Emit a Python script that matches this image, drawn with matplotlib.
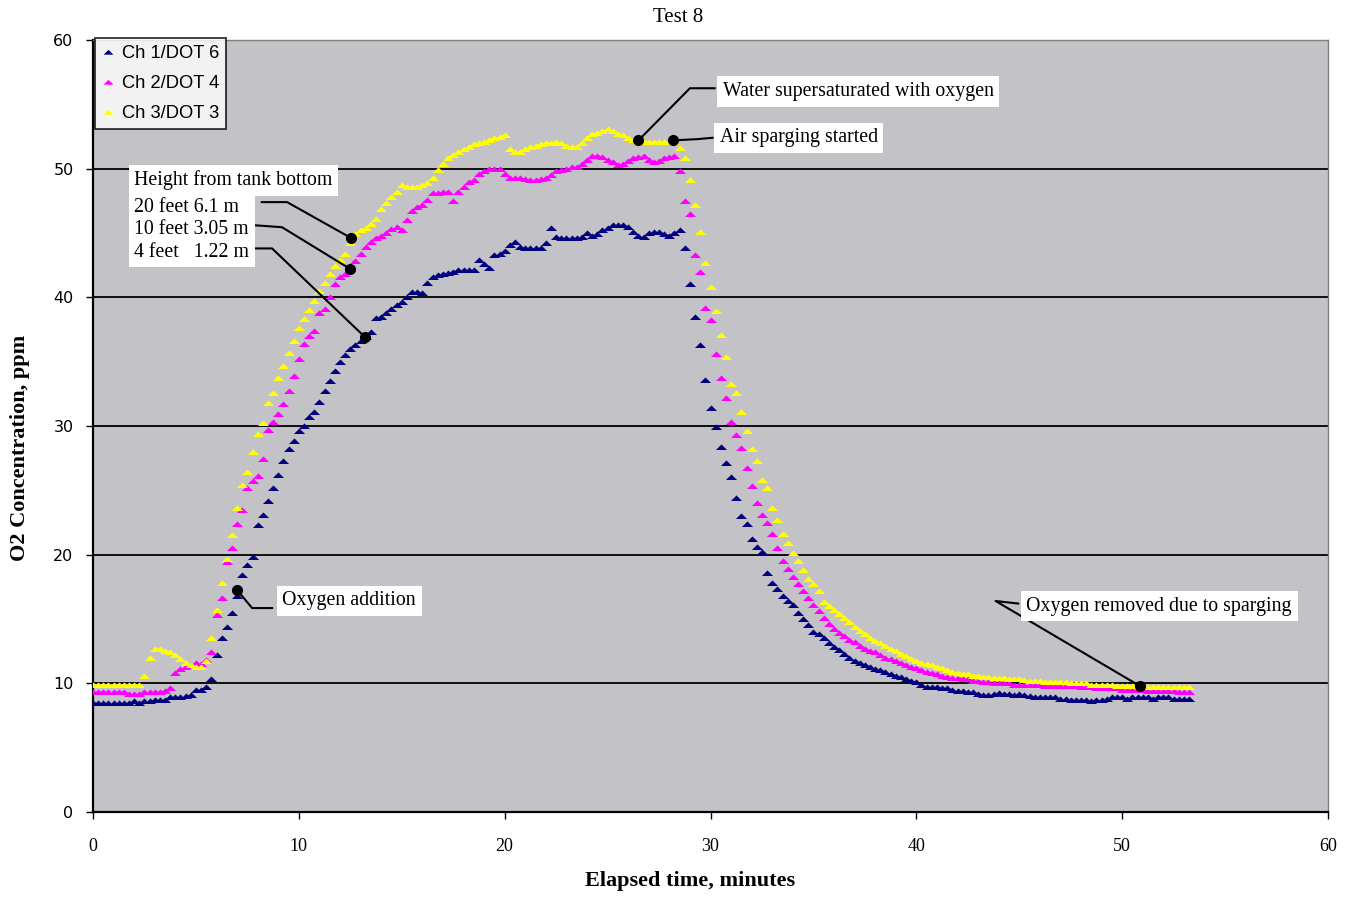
import numpy as np
import matplotlib
matplotlib.use("Agg")
import matplotlib.pyplot as plt
from matplotlib.lines import Line2D

# sampling step of the logger, minutes
TIME_STEP = 0.25

# Ch 1/DOT 6 (4 feet), ppm, one value every 0.25 min from t=0
ch1 = [8.5, 8.5, 8.5, 8.5, 8.5, 8.5, 8.5, 8.5, 8.6, 8.5, 8.6, 8.6, 8.7, 8.7, 8.7, 8.9, 8.9, 8.9, 9.0, 9.1,
       9.5, 9.5, 9.7, 10.3, 12.2, 13.5, 14.4, 15.5, 16.8, 18.4, 19.2, 19.8, 22.3, 23.1, 24.2, 25.2, 26.2, 27.3, 28.2, 28.8,
       29.6, 30.0, 30.7, 31.1, 31.9, 32.7, 33.5, 34.3, 35.0, 35.5, 36.0, 36.3, 36.6, 36.9, 37.3, 38.4, 38.5, 38.8, 39.1, 39.4,
       39.6, 40.0, 40.4, 40.4, 40.3, 41.1, 41.6, 41.7, 41.8, 41.9, 42.0, 42.1, 42.1, 42.1, 42.1, 42.9, 42.6, 42.3, 43.3, 43.4,
       43.6, 44.1, 44.3, 43.9, 43.8, 43.8, 43.8, 43.8, 44.2, 45.4, 44.7, 44.6, 44.6, 44.6, 44.6, 44.7, 45.0, 44.8, 44.9, 45.2,
       45.4, 45.6, 45.6, 45.6, 45.5, 45.1, 44.8, 44.7, 45.0, 45.1, 45.1, 44.9, 44.8, 45.0, 45.2, 43.8, 41.0, 38.5, 36.3, 33.6,
       31.4, 29.9, 28.4, 27.1, 26.0, 24.4, 23.0, 22.4, 21.2, 20.6, 20.2, 18.6, 17.8, 17.3, 16.8, 16.4, 16.1, 15.5, 15.0, 14.5,
       14.0, 13.8, 13.5, 13.1, 12.8, 12.6, 12.3, 12.0, 11.7, 11.6, 11.4, 11.3, 11.1, 11.0, 10.9, 10.7, 10.6, 10.5, 10.3, 10.2,
       10.1, 9.9, 9.7, 9.7, 9.7, 9.6, 9.6, 9.5, 9.4, 9.4, 9.3, 9.3, 9.2, 9.1, 9.1, 9.2, 9.25, 9.2, 9.15, 9.1,
       9.2, 9.1, 9.0, 8.9, 8.9, 8.9, 8.9, 8.9, 8.8, 8.8, 8.7, 8.7, 8.7, 8.7, 8.6, 8.7, 8.7, 8.8, 8.9, 8.9,
       8.9, 8.8, 8.9, 8.9, 8.9, 8.9, 8.8, 8.9, 8.9, 8.9, 8.8, 8.8, 8.8, 8.8]

# Ch 2/DOT 4 (10 feet)
ch2 = [9.3, 9.3, 9.3, 9.3, 9.3, 9.3, 9.3, 9.2, 9.2, 9.2, 9.3, 9.3, 9.3, 9.3, 9.4, 9.6, 10.8, 11.1, 11.3, 11.4,
       11.6, 11.5, 11.8, 12.4, 15.3, 16.6, 19.4, 20.5, 22.4, 23.5, 25.2, 25.7, 26.1, 27.4, 29.7, 30.3, 30.9, 31.7, 32.7, 33.9,
       35.2, 36.4, 37.0, 37.4, 38.8, 39.1, 40.0, 41.0, 41.6, 41.8, 42.2, 42.8, 43.4, 43.9, 44.3, 44.6, 44.8, 45.0, 45.3, 45.5,
       45.2, 46.0, 46.7, 47.0, 47.2, 47.6, 48.1, 48.1, 48.2, 48.2, 47.5, 48.2, 48.6, 49.0, 49.1, 49.6, 49.8, 50.0, 50.0, 50.0,
       49.6, 49.3, 49.3, 49.3, 49.2, 49.1, 49.1, 49.2, 49.3, 49.5, 49.8, 49.9, 50.0, 50.1, 50.1, 50.4, 50.7, 51.0, 51.0, 50.9,
       50.7, 50.5, 50.3, 50.4, 50.6, 50.8, 50.9, 51.0, 50.7, 50.5, 50.6, 50.8, 50.9, 51.0, 49.8, 47.5, 46.5, 43.3, 42.0, 39.2,
       38.2, 35.6, 33.7, 32.2, 30.3, 29.3, 28.3, 26.7, 25.3, 24.0, 23.1, 22.5, 21.6, 20.5, 19.5, 18.9, 18.3, 17.7, 17.2, 16.6,
       16.1, 15.6, 15.1, 14.6, 14.2, 13.9, 13.7, 13.4, 13.2, 12.9, 12.7, 12.5, 12.4, 12.2, 12.0, 11.9, 11.7, 11.6, 11.4, 11.3,
       11.2, 11.0, 10.9, 10.8, 10.7, 10.6, 10.5, 10.4, 10.4, 10.3, 10.3, 10.2, 10.2, 10.1, 10.1, 10.0, 10.0, 10.0, 10.0, 9.9,
       9.9, 9.9, 9.9, 9.9, 9.9, 9.8, 9.8, 9.8, 9.8, 9.8, 9.8, 9.8, 9.7, 9.7, 9.7, 9.6, 9.6, 9.6, 9.6, 9.6,
       9.5, 9.5, 9.5, 9.5, 9.5, 9.4, 9.4, 9.4, 9.4, 9.4, 9.4, 9.3, 9.3, 9.3]

# Ch 3/DOT 3 (20 feet)
ch3 = [9.9, 9.9, 9.9, 9.9, 9.9, 9.9, 9.9, 9.9, 9.9, 9.9, 10.6, 12.0, 12.7, 12.7, 12.5, 12.4, 12.2, 11.9, 11.6, 11.4,
       11.3, 11.3, 11.7, 13.5, 15.7, 17.8, 19.7, 21.5, 23.6, 25.4, 26.4, 28.0, 29.4, 30.2, 31.8, 32.6, 33.7, 34.7, 35.7, 36.6,
       37.6, 38.3, 39.0, 39.7, 40.5, 41.1, 41.8, 42.4, 42.9, 43.4, 44.2, 44.9, 45.2, 45.4, 45.7, 46.1, 46.9, 47.3, 47.8, 48.2,
       48.7, 48.6, 48.6, 48.6, 48.7, 48.9, 49.3, 49.9, 50.4, 50.8, 51.1, 51.3, 51.5, 51.7, 51.9, 52.0, 52.1, 52.2, 52.4, 52.5,
       52.6, 51.5, 51.3, 51.3, 51.5, 51.7, 51.8, 51.9, 52.0, 52.0, 52.1, 52.0, 51.8, 51.7, 51.7, 52.0, 52.4, 52.7, 52.8, 52.9,
       53.1, 52.9, 52.7, 52.6, 52.4, 52.2, 52.1, 52.1, 52.1, 52.1, 52.1, 52.1, 52.1, 52.1, 51.6, 50.8, 49.1, 47.2, 45.1, 42.7,
       40.8, 38.9, 37.1, 35.4, 33.3, 32.6, 31.1, 29.6, 28.2, 27.3, 25.8, 25.2, 23.6, 22.7, 21.6, 20.9, 20.1, 19.5, 18.8, 18.1,
       17.7, 17.2, 16.3, 16.0, 15.7, 15.4, 15.1, 14.8, 14.4, 14.1, 13.8, 13.5, 13.3, 13.1, 12.9, 12.7, 12.5, 12.3, 12.1, 11.9,
       11.7, 11.6, 11.5, 11.4, 11.3, 11.2, 11.0, 10.9, 10.8, 10.7, 10.7, 10.6, 10.55, 10.5, 10.5, 10.4, 10.4, 10.4, 10.3, 10.3,
       10.3, 10.25, 10.2, 10.2, 10.2, 10.1, 10.1, 10.1, 10.1, 10.1, 10.0, 10.0, 10.0, 10.0, 9.9, 9.9, 9.9, 9.9, 9.9, 9.8,
       9.8, 9.8, 9.8, 9.8, 9.8, 9.75, 9.7, 9.7, 9.7, 9.7, 9.7, 9.7, 9.7, 9.7]

series_names = ["Ch 1/DOT 6", "Ch 2/DOT 4", "Ch 3/DOT 3"]
series_colors = ["#000080", "#ff00ff", "#ffff00"]

x_ticks = [0, 10, 20, 30, 40, 50, 60]
y_ticks = [0, 10, 20, 30, 40, 50, 60]

SERIF = "Liberation Serif"
SANS = "Liberation Sans"
# flat excel-like triangle
TRI = [(-1.0, -0.45), (1.0, -0.45), (0.0, 0.55), (-1.0, -0.45)]

fig = plt.figure(figsize=(13.54, 8.99), dpi=100)
ax = fig.add_axes([93 / 1354, 1 - 812 / 899, (1328 - 93) / 1354, (812 - 40) / 899])
ax.set_facecolor("#c3c2c7")

for v in y_ticks[1:-1]:
    ax.axhline(v, color="black", lw=1.3, zorder=1)

for vals, name, col in zip([ch1, ch2, ch3], series_names, series_colors):
    t = np.arange(len(vals)) * TIME_STEP
    ax.plot(t, vals, ls="none", marker=TRI, ms=8, mew=0, color=col, zorder=3, label=name)

ax.set_xlim(x_ticks[0], x_ticks[-1])
ax.set_ylim(y_ticks[0], y_ticks[-1])
ax.set_xticks(x_ticks)
ax.set_yticks(y_ticks)
ax.tick_params(axis="x", direction="out", length=5, width=1, pad=14, labelsize=13)
ax.tick_params(axis="y", direction="out", length=5, width=1, pad=9, labelsize=11.5)
for lab in ax.get_xticklabels():
    lab.set_fontfamily(SERIF)
for lab in ax.get_yticklabels():
    lab.set_fontfamily("DejaVu Sans")

for s in ["left", "bottom"]:
    ax.spines[s].set_color("black")
    ax.spines[s].set_linewidth(1.6)
for s in ["top", "right"]:
    ax.spines[s].set_color("#808080")
    ax.spines[s].set_linewidth(1)

fig.text(678 / 1354, 1 - 17 / 899, "Test 8", fontfamily=SERIF, fontsize=15, ha="center", va="center")
fig.text(690 / 1354, 1 - 881 / 899, "Elapsed time, minutes", fontfamily=SERIF, fontweight="bold",
         fontsize=16, ha="center", va="center")
fig.text(20 / 1354, 1 - 448 / 899, "O2 Concentration, ppm", fontfamily=SERIF, fontweight="bold",
         fontsize=16, ha="center", va="center", rotation=90)

handles = [Line2D([], [], ls="none", marker=TRI, ms=7, mew=0, color=c) for c in series_colors]
leg = ax.legend(handles, series_names, loc="upper left", bbox_to_anchor=(95 / 1354, 1 - 38 / 899),
                bbox_transform=fig.transFigure, borderaxespad=0, frameon=True, fancybox=False,
                handlelength=0.6, handletextpad=0.45, borderpad=0.4, labelspacing=0.7,
                prop={"family": SANS, "size": 13.2})
leg.get_frame().set_edgecolor("black")
leg.get_frame().set_linewidth(1.3)
leg.set_zorder(6)

# annotations: (text, text x, text y, leader line points ending on the marked sample)
box = dict(facecolor="white", edgecolor="none", pad=4)
notes = [
    ("Height from tank bottom", 2.0, 49.1, None),
    ("20 feet 6.1 m\n10 feet 3.05 m\n4 feet   1.22 m", 2.0, 47.75, None),
    ("Oxygen addition", 9.2, 16.4, [(8.7, 15.85), (7.73, 15.85), (7.0, 17.25)]),
    ("Water supersaturated with oxygen", 30.6, 56.0, [(30.2, 56.25), (29.0, 56.25), (26.5, 52.2)]),
    ("Air sparging started", 30.45, 52.4, [(30.1, 52.4), (29.4, 52.3), (28.2, 52.2)]),
    ("Oxygen removed due to sparging", 45.35, 16.0, [(44.95, 16.2), (43.85, 16.4), (50.85, 9.8)]),
]
for txt, tx, ty, pts in notes:
    va = "top" if "\n" in txt else "center"
    ax.text(tx, ty, txt, fontfamily=SERIF, fontsize=14.3, va=va, ha="left",
            linespacing=1.25, bbox=box, zorder=5)
    if pts:
        xs, ys = zip(*pts)
        ax.plot(xs, ys, color="black", lw=1.5, zorder=4)
        ax.plot(xs[-1], ys[-1], "o", color="black", ms=7, zorder=4)

# leaders from the height box to the three sensors
height_leaders = [
    [(8.2, 47.4), (9.43, 47.4), (12.55, 44.6)],
    [(7.87, 45.6), (9.18, 45.45), (12.5, 42.2)],
    [(7.87, 43.8), (8.7, 43.8), (13.22, 36.9)],
]
for pts in height_leaders:
    xs, ys = zip(*pts)
    ax.plot(xs, ys, color="black", lw=1.5, zorder=4)
    ax.plot(xs[-1], ys[-1], "o", color="black", ms=7, zorder=4)

fig.savefig("out.png", dpi=100)
